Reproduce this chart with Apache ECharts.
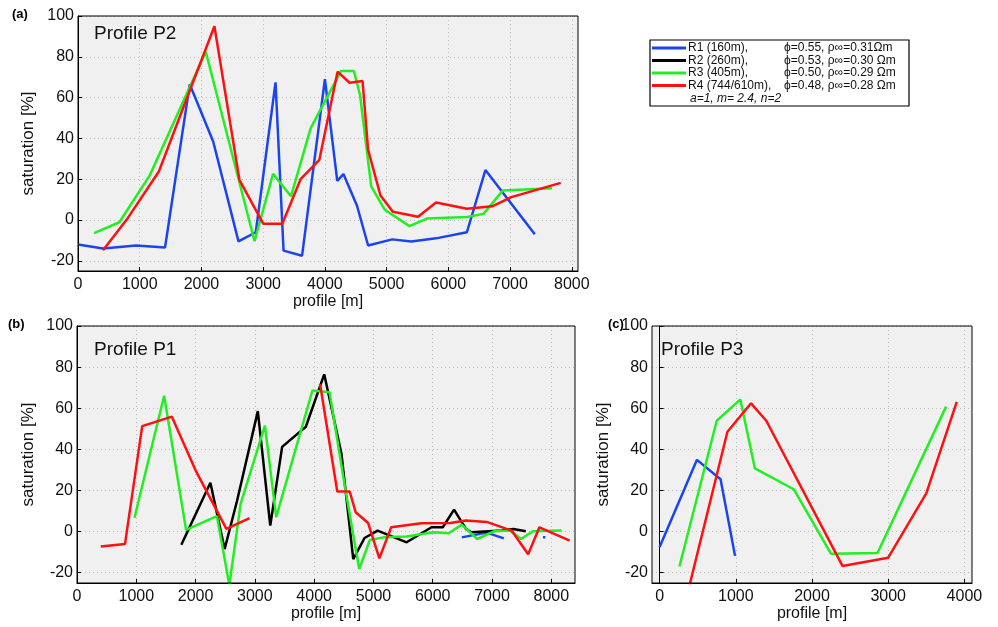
<!DOCTYPE html>
<html>
<head>
<meta charset="utf-8">
<script src="https://cdn.jsdelivr.net/npm/echarts@6/dist/echarts.min.js"></script>
<style>
  html, body { margin: 0; padding: 0; background: #fff; }
  #chart { width: 998px; height: 627px; }
</style>
</head>
<body>
<div id="chart"></div>
<script>
// Profile P2 (panel a)
const p2R1 = [[0,-12],[405,-14],[940,-12.5],[1410,-13.5],[1810,66.5],[2190,38.5],[2600,-10.5],[2880,-6],[3200,67.5],[3330,-15],[3630,-17.5],[4000,69],[4200,19.2],[4300,22.5],[4520,7],[4700,-12.5],[5090,-9.5],[5400,-10.5],[5800,-9],[6300,-6],[6600,24.5],[7400,-7]];
const p2R3 = [[260,-6.4],[670,-1.1],[1165,22],[2070,82.5],[2860,-10.4],[3160,22.6],[3450,11.6],[3770,45],[4260,73],[4470,73],[4570,61],[4750,16.5],[4970,5],[5370,-3],[5650,0.7],[6300,1.5],[6570,3],[6880,14.5],[7680,15.6]];
const p2R4 = [[405,-14.8],[790,0.2],[1310,23.8],[2210,95],[2615,19.7],[3000,-1.8],[3310,-1.8],[3610,20.2],[3910,29.5],[4205,72.7],[4400,67.3],[4610,68.1],[4700,34.4],[4900,12],[5100,4],[5510,1.6],[5800,8.6],[6300,5.5],[6710,6.7],[7020,11.2],[7820,18.2]];

// Profile P1 (panel b)
const p1R1 = [[6490,-2.8],[6910,-0.5],[7200,-3.3],[null,null],[7860,-2.8],[7900,-2.8]];
const p1R2 = [[1760,-6.4],[2250,23.8],[2490,-8.5],[2700,15],[3050,58.6],[3260,2.9],[3460,41.2],[3860,51],[4170,76.5],[4460,38],[4660,-13.4],[4850,-3.1],[5070,0.5],[5560,-5.2],[5980,2.1],[6170,2.1],[6360,10.7],[6560,1.3],[6650,-0.3],[7170,0.5],[7360,1.3],[7570,0.2]];
const p1R3 = [[970,6.7],[1470,66.1],[1840,0.8],[2360,7.5],[2570,-26],[2760,13.5],[3170,51.5],[3360,7],[3970,68.6],[4260,67.8],[4520,21.7],[4760,-18.2],[4940,-4.1],[5170,-2.8],[5560,-2.4],[6010,-0.3],[6270,-0.8],[6490,3.4],[6750,-3.6],[7040,0.2],[7300,0.5],[7490,-3.6],[7690,0.2],[8170,0.5]];
const p1R4 = [[400,-7.3],[810,-6],[1100,51.3],[1600,55.9],[2000,29.8],[2520,1.3],[2910,6.5],[null,null],[4100,71.8],[4390,19.5],[4600,19.5],[4700,9.4],[4910,4.2],[5100,-13],[5300,2.1],[5810,4.1],[6300,4.2],[6560,5.4],[6910,4.7],[7330,0.5],[7610,-11],[7800,2.1],[8310,-4.4]];

// Profile P3 (panel c)
const p3R1 = [[0,-7.5],[490,34.9],[800,25.5],[990,-11.8]];
const p3R3 = [[260,-17],[750,53.9],[1060,64.3],[1250,30.8],[1760,20.6],[2250,-10.8],[2860,-10.4],[3760,60.8]];
const p3R4 = [[380,-28],[890,48.6],[1200,62.4],[1400,53.9],[2400,-16.7],[3000,-12.7],[3500,18.6],[3900,63.1]];

const yTicks = [-20, 0, 20, 40, 60, 80, 100];
const xTicksAB = [0, 1000, 2000, 3000, 4000, 5000, 6000, 7000, 8000];
const xTicksC = [0, 1000, 2000, 3000, 4000];

const colors = { R1: '#1a44f0', R2: '#000000', R3: '#22ee22', R4: '#ff1010' };
const legendRows = [
  ['R1', 'R1 (160m),', 'ϕ=0.55, ρ∞=0.31Ωm'],
  ['R2', 'R2 (260m),', 'ϕ=0.53, ρ∞=0.30 Ωm'],
  ['R3', 'R3 (405m),', 'ϕ=0.50, ρ∞=0.29 Ωm'],
  ['R4', 'R4 (744/610m),', 'ϕ=0.48, ρ∞=0.28 Ωm']
];

const font = 'Liberation Sans, Arial, sans-serif';
const grids = [
  { left: 78, top: 16, width: 500, height: 255 },
  { left: 77, top: 326, width: 498, height: 257 },
  { left: 652, top: 326, width: 320, height: 257 }
];

function xAxis(i, min, max, ticks) {
  return {
    type: 'value', gridIndex: i, min: min, max: max,
    name: 'profile [m]', nameLocation: 'middle', nameGap: 21,
    nameTextStyle: { fontSize: 16, color: '#111', fontFamily: font },
    axisLine: { show: true, onZero: false, lineStyle: { color: '#000', width: 1 } },
    axisTick: { show: true, inside: true, length: 4, customValues: ticks, lineStyle: { color: '#000' } },
    axisLabel: { customValues: ticks, formatter: v => String(v), fontSize: 16, color: '#111', fontFamily: font, margin: 6 },
    splitLine: { show: true, lineStyle: { color: '#bbb', type: [1, 3] } }
  };
}
function yAxis(i) {
  return {
    type: 'value', gridIndex: i, min: -25, max: 100,
    name: 'saturation [%]', nameLocation: 'middle', nameGap: 40,
    nameTextStyle: { fontSize: 17, color: '#111', fontFamily: font },
    axisLine: { show: true, lineStyle: { color: '#000', width: 1 } },
    axisTick: { show: true, inside: true, length: 4, customValues: yTicks, lineStyle: { color: '#000' } },
    axisLabel: { customValues: yTicks, fontSize: 16, color: '#111', fontFamily: font, margin: 4 },
    splitLine: { show: true, lineStyle: { color: '#bbb', type: [1, 3] } }
  };
}
function line(i, data, key) {
  return {
    type: 'line', xAxisIndex: i, yAxisIndex: i, data: data, showSymbol: false,
    connectNulls: false, clip: true, animation: false,
    lineStyle: { color: colors[key], width: 2.5 }
  };
}

const graphic = [];
grids.forEach(g => {
  graphic.push({ type: 'rect', z: -1, shape: { x: g.left, y: g.top, width: g.width, height: g.height },
    style: { fill: '#f0f0f0' } });
  graphic.push({ type: 'rect', z: 10, shape: { x: g.left, y: g.top, width: g.width, height: g.height },
    style: { fill: 'none', stroke: '#000', lineWidth: 1 } });
});
[['(a)', 12, 8], ['(b)', 8, 318], ['(c)', 608, 318]].forEach(t => {
  graphic.push({ type: 'text', left: t[1], top: t[2], style: { text: t[0], font: 'bold 13px ' + font, fill: '#000' } });
});
[['Profile P2', 94, 24], ['Profile P1', 94, 340], ['Profile P3', 661, 340]].forEach(t => {
  graphic.push({ type: 'text', left: t[1], top: t[2], z: 20, style: { text: t[0], font: '19px ' + font, fill: '#111' } });
});
// legend box
graphic.push({ type: 'rect', z: 20, shape: { x: 650, y: 40, width: 259, height: 66 },
  style: { fill: '#fff', stroke: '#000', lineWidth: 1.2 } });
legendRows.forEach((r, k) => {
  const y = 48 + k * 12.5;
  graphic.push({ type: 'line', z: 21, shape: { x1: 652, y1: y, x2: 686, y2: y },
    style: { stroke: colors[r[0]], lineWidth: 3 } });
  graphic.push({ type: 'text', z: 21, x: 688, y: y, style: { text: r[1], font: '12px ' + font, fill: '#111', verticalAlign: 'middle' } });
  graphic.push({ type: 'text', z: 21, x: 784, y: y, style: { text: r[2], font: '12px ' + font, fill: '#111', verticalAlign: 'middle' } });
});
graphic.push({ type: 'text', z: 21, x: 690, y: 99, style: { text: 'a=1, m= 2.4, n=2', font: 'italic 12px ' + font, fill: '#111', verticalAlign: 'middle' } });

const chart = echarts.init(document.getElementById('chart'));
chart.setOption({
  animation: false,
  grid: grids,
  xAxis: [xAxis(0, 0, 8100, xTicksAB), xAxis(1, 0, 8400, xTicksAB), xAxis(2, -100, 4100, xTicksC)],
  yAxis: [yAxis(0), yAxis(1), yAxis(2)],
  graphic: graphic,
  series: [
    line(0, p2R1, 'R1'), line(0, p2R3, 'R3'), line(0, p2R4, 'R4'),
    line(1, p1R1, 'R1'), line(1, p1R2, 'R2'), line(1, p1R3, 'R3'), line(1, p1R4, 'R4'),
    line(2, p3R1, 'R1'), line(2, p3R3, 'R3'), line(2, p3R4, 'R4')
  ]
});
</script>
</body>
</html>
